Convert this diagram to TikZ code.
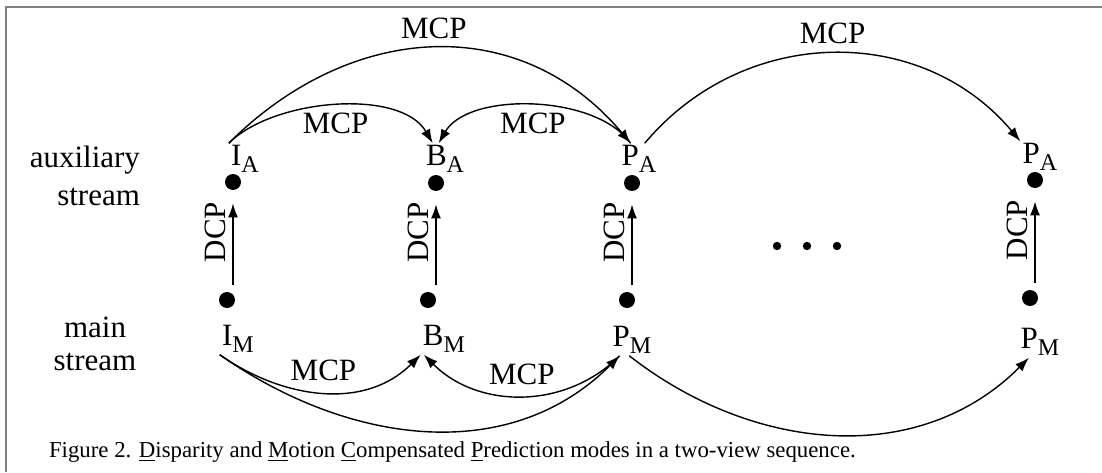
\documentclass[tikz,border=0pt]{standalone}
\usepackage{fontspec}
\setmainfont{Liberation Serif}
\usetikzlibrary{arrows.meta}

\newcommand{\sublab}[2]{#1\raisebox{-0.45ex}{\fontsize{12}{12}\selectfont #2}}

\tikzset{
  frame/.style={draw=gray, line width=1.4pt},
  dot/.style={circle, fill=black, inner sep=0pt, minimum size=8pt},
  smalldot/.style={circle, fill=black, inner sep=0pt, minimum size=4.2pt},
  lbl/.style={inner sep=1pt},
  pred/.style={->, line width=0.7pt},
}

\begin{document}
\begin{tikzpicture}[x=0.5pt, y=0.5pt, >={Latex[length=7pt,width=5pt]},
  font=\fontsize{15.5}{19}\selectfont]
\useasboundingbox (0,0) rectangle (1102,472);
\draw[frame] (6,0) -- (6,465) -- (1102,465);

% stream names
\node[align=right, anchor=east] (aux) at (147,296) {auxiliary\\stream};
\node[align=center, font=\fontsize{15.5}{16.5}\selectfont] (main) at (95,128) {main\\stream};

% auxiliary stream
\node[dot] (IAd) at (233,290) {};
\node[dot] (BAd) at (436,289) {};
\node[dot] (PAd) at (632,289) {};
\node[dot] (PAd2) at (1035,292) {};
\node[lbl] (IA) at (245,313) {\sublab{I}{A}};
\node[lbl] (BA) at (445,313) {\sublab{B}{A}};
\node[lbl] (PA) at (639,313) {\sublab{P}{A}};
\node[lbl] (PA2) at (1040,315) {\sublab{P}{A}};

% main stream
\node[dot] (IMd) at (227,172) {};
\node[dot] (BMd) at (428,172) {};
\node[dot] (PMd) at (627,172) {};
\node[dot] (PMd2) at (1030,174) {};
\node[lbl] (IM) at (238,133) {\sublab{I}{M}};
\node[lbl] (BM) at (444,133) {\sublab{B}{M}};
\node[lbl] (PM) at (632,132) {\sublab{P}{M}};
\node[lbl] (PM2) at (1040,130) {\sublab{P}{M}};

% disparity
\draw[pred, shorten <=7.5pt, shorten >=6.5pt] (IAd |- IMd) -- node[pos=0.62, above, sloped] {DCP} (IAd);
\draw[pred, shorten <=7.5pt, shorten >=6.5pt] (BAd |- BMd) -- node[pos=0.62, above, sloped] {DCP} (BAd);
\draw[pred, shorten <=7.5pt, shorten >=6.5pt] (PAd |- PMd) -- node[pos=0.62, above, sloped] {DCP} (PAd);
\draw[pred, shorten <=7.5pt, shorten >=6.5pt] (PAd2 |- PMd2) -- node[pos=0.62, above, sloped] {DCP} (PAd2);

% motion, top
\draw[pred] (IA.north west) to[out=45, in=120, looseness=0.8] node[midway, below] {MCP} (BA.128);
\draw[pred] (IA.north west) to[out=45, in=130, looseness=1.1] node[midway, above=1pt] {MCP} (PA.118);
\draw[pred] (PA.118) to[out=125, in=60, looseness=0.8] node[midway, below] {MCP} (BA.112);
\draw[pred] (PA.70) to[out=50, in=130, looseness=1.05] node[midway, above=1pt] {MCP} (PA2.north west);

% motion, bottom
\draw[pred] (IM.south west) to[out=-35, in=-135] node[midway, above=2pt] {MCP} (BM.south west);
\draw[pred] (IM.south west) to[out=-35, in=-135] (PM.232);
\draw[pred] (PM.232) to[out=-135, in=-45] node[midway, above=2pt] {MCP} (BM.218);
\draw[pred] (PM.260) to[out=-38, in=-135] (PM2.235);

\foreach \x [count=\i] in {777,807,837}
  \node[smalldot] (e\i) at (\x,226) {};

\node[anchor=west, font=\fontsize{11.4}{13}\selectfont] (cap) at (42,20)
  {Figure 2. \underline{D}isparity and \underline{M}otion \underline{C}ompensated \underline{P}rediction modes in a two-view sequence.};
\end{tikzpicture}
\end{document}
